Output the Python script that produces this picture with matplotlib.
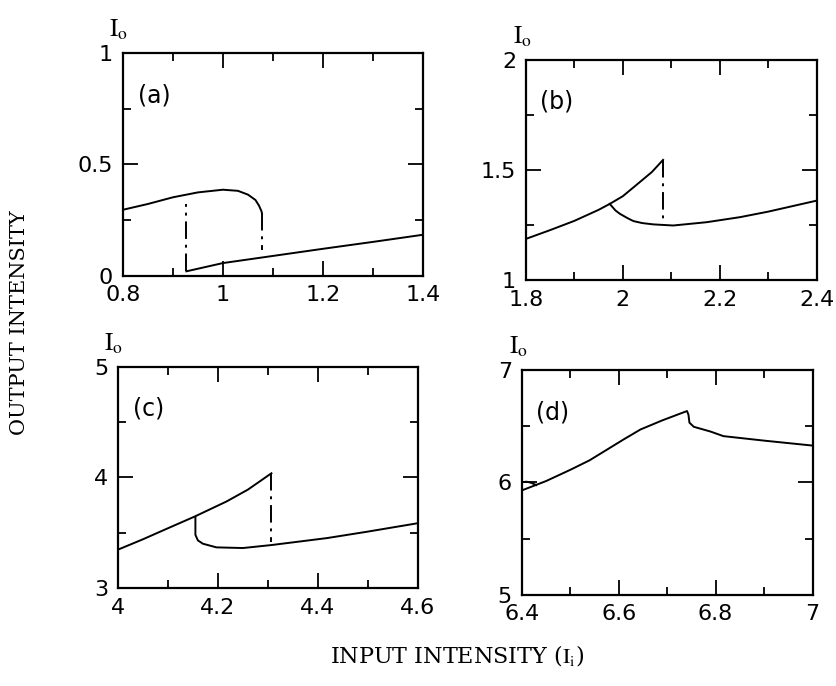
# Optical bistability: output vs input intensity, four panels
import matplotlib
matplotlib.use('Agg')
import matplotlib.pyplot as plt

plt.rcParams['mathtext.fontset'] = 'stix'

# panel (a)
a_up_x = [0.8, 0.85, 0.9, 0.95, 1.0, 1.03, 1.05, 1.065, 1.072, 1.077, 1.078]
a_up_y = [0.296, 0.322, 0.352, 0.374, 0.386, 0.381, 0.364, 0.34, 0.315, 0.29, 0.28]
a_lo_x = [0.927, 1.0, 1.1, 1.2, 1.3, 1.4]
a_lo_y = [0.02, 0.057, 0.089, 0.121, 0.152, 0.184]
a_jump_x = [0.927, 0.927, 1.078, 1.078]
a_jump_y = [0.02, 0.32, 0.28, 0.117]

# panel (b)
b_up_x = [1.8, 1.85, 1.9, 1.95, 1.973, 2.0, 2.035, 2.06, 2.083]
b_up_y = [1.186, 1.226, 1.268, 1.318, 1.345, 1.38, 1.444, 1.49, 1.545]
b_lo_x = [1.973, 1.985, 1.994, 2.01, 2.022, 2.04, 2.063, 2.104, 2.173, 2.242, 2.3, 2.4]
b_lo_y = [1.345, 1.315, 1.30, 1.28, 1.267, 1.258, 1.252, 1.247, 1.262, 1.285, 1.31, 1.36]
b_jump_x = [2.083, 2.083]
b_jump_y = [1.545, 1.258]

# panel (c)
c_up_x = [4.0, 4.05, 4.1, 4.154, 4.217, 4.26, 4.307]
c_up_y = [3.346, 3.44, 3.54, 3.647, 3.782, 3.89, 4.038]
c_lo_x = [4.155, 4.155, 4.16, 4.17, 4.197, 4.25, 4.307, 4.418, 4.5, 4.6]
c_lo_y = [3.64, 3.48, 3.43, 3.40, 3.367, 3.361, 3.388, 3.451, 3.51, 3.586]
c_jump_x = [4.307, 4.307]
c_jump_y = [4.038, 3.42]

# panel (d)
d_x = [6.4, 6.45, 6.501, 6.54, 6.576, 6.61, 6.645, 6.69, 6.741, 6.744, 6.746, 6.755, 6.79, 6.816, 6.9, 7.0]
d_y = [5.927, 6.01, 6.112, 6.195, 6.29, 6.38, 6.469, 6.55, 6.633, 6.6, 6.53, 6.493, 6.45, 6.41, 6.37, 6.326]
d_bump_x = [6.4, 6.41, 6.42, 6.43]
d_bump_y = [6.0, 6.005, 5.995, 5.975]

# tick values and labels
a_xt = [0.8, 1.0, 1.2, 1.4]
a_xl = ['0.8', '1', '1.2', '1.4']
a_yt = [0, 0.5, 1]
a_yl = ['0', '0.5', '1']
b_xt = [1.8, 2.0, 2.2, 2.4]
b_xl = ['1.8', '2', '2.2', '2.4']
b_yt = [1, 1.5, 2]
b_yl = ['1', '1.5', '2']
c_xt = [4.0, 4.2, 4.4, 4.6]
c_xl = ['4', '4.2', '4.4', '4.6']
c_yt = [3, 4, 5]
c_yl = ['3', '4', '5']
d_xt = [6.4, 6.6, 6.8, 7.0]
d_xl = ['6.4', '6.6', '6.8', '7']
d_yt = [5, 6, 7]
d_yl = ['5', '6', '7']

fig = plt.figure(figsize=(8.36, 6.86), dpi=100)

panels = [
    ([0.147, 0.598, 0.359, 0.325], a_xt, a_xl, a_yt, a_yl, '(a)'),
    ([0.629, 0.592, 0.348, 0.321], b_xt, b_xl, b_yt, b_yl, '(b)'),
    ([0.141, 0.143, 0.359, 0.322], c_xt, c_xl, c_yt, c_yl, '(c)'),
    ([0.624, 0.133, 0.348, 0.328], d_xt, d_xl, d_yt, d_yl, '(d)'),
]

axes = []
for rect, xt, xl, yt, yl, tag in panels:
    ax = fig.add_axes(rect)
    ax.set_xlim(xt[0], xt[-1])
    ax.set_ylim(yt[0], yt[-1])
    ax.set_xticks(xt, xl)
    ax.set_yticks(yt, yl)
    ax.set_xticks([(xt[i] + xt[i + 1]) / 2 for i in range(len(xt) - 1)], minor=True)
    ax.set_yticks([(yt[i] + yt[i + 1]) / 2 for i in range(len(yt) - 1)], minor=True)
    ax.tick_params(which='both', direction='in', top=True, right=True,
                   labelsize=16, width=1.3)
    ax.tick_params(which='major', length=11, pad=7)
    ax.tick_params(which='minor', length=6)
    for s in ax.spines.values():
        s.set_linewidth(1.6)
    ax.text(0.05, 0.81, tag, transform=ax.transAxes, fontsize=17, va='center')
    ax.text(-0.045, 1.05, r'$\mathrm{I_o}$', transform=ax.transAxes, fontsize=18,
            va='bottom', ha='left')
    axes.append(ax)

lw = 1.4
dd = (0, (9, 3, 1.5, 3))
ax = axes[0]
ax.plot(a_up_x, a_up_y, 'k', lw=lw)
ax.plot(a_lo_x, a_lo_y, 'k', lw=lw)
ax.plot(a_jump_x[:2], a_jump_y[:2], 'k', lw=lw, linestyle=dd)
ax.plot(a_jump_x[2:], a_jump_y[2:], 'k', lw=lw, linestyle=dd)

ax = axes[1]
ax.plot(b_up_x, b_up_y, 'k', lw=lw)
ax.plot(b_lo_x, b_lo_y, 'k', lw=lw)
ax.plot(b_jump_x, b_jump_y, 'k', lw=lw, linestyle=dd)

ax = axes[2]
ax.plot(c_up_x, c_up_y, 'k', lw=lw)
ax.plot(c_lo_x, c_lo_y, 'k', lw=lw)
ax.plot(c_jump_x, c_jump_y, 'k', lw=lw, linestyle=dd)

ax = axes[3]
ax.plot(d_x, d_y, 'k', lw=lw)
ax.plot(d_bump_x, d_bump_y, 'k', lw=lw)

fig.text(0.023, 0.529, 'OUTPUT INTENSITY', rotation=90, ha='center', va='center',
         fontsize=15, family='DejaVu Serif')
fig.text(0.547, 0.045, r'INPUT INTENSITY ($\mathrm{I_i}$)', ha='center', va='center',
         fontsize=16, family='DejaVu Serif')

fig.savefig('out.png', dpi=100)
